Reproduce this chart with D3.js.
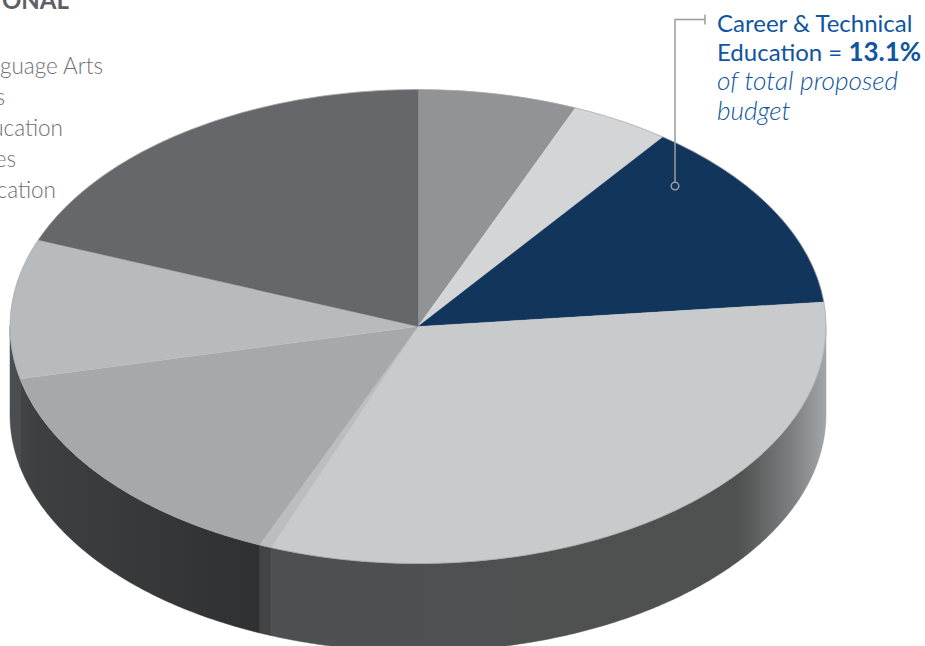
<!DOCTYPE html>
<html>
<head>
<meta charset="utf-8">
<script src="https://cdn.jsdelivr.net/npm/d3@7"></script>
<style>
  html, body { margin: 0; padding: 0; background: #fff; overflow: hidden; }
  svg { display: block; }
  text { font-family: Lato, "Open Sans", sans-serif; }
</style>
</head>
<body>
<div id="chart"></div>
<script>
// share of the budget per slice, clockwise from 12 o'clock
var sliceNames = ["Slice A", "Slice B", "Career & Technical Education", "Slice D", "Slice E", "Slice F", "Slice G", "Slice H"];
var sliceValues = [6.3, 3.95, 13.1, 32.5, 0.5, 15.1, 9.5, 19.05];

var topColors = ["#929396", "#d3d5d7", "#12355b", "#c9cacc", "#bcbdc0", "#a7a8ab", "#b9babd", "#66676a"];

// what is left of the legend inside the crop
var legendTitle = "ONAL";
var legendLines = ["guage Arts", "s", "ucation", "es", "cation"];

var width = 925, height = 646;
var cx = 418, cy = 326.5, rx = 408, ry = 237, depth = 88;

var svg = d3.select("#chart").append("svg")
  .attr("width", width)
  .attr("height", height);

var defs = svg.append("defs");

// gradient on the wall of the big slice, gets lighter towards the right edge
var bigWall = defs.append("linearGradient")
  .attr("id", "wallBig")
  .attr("gradientUnits", "userSpaceOnUse")
  .attr("x1", cx - rx).attr("x2", cx + rx).attr("y1", 0).attr("y2", 0);
[[0, "#4e4f50"], [0.89, "#4f5050"], [0.91, "#5b5c5c"], [0.96, "#7f8081"], [1, "#a4a5a6"]].forEach(function(s) {
  bigWall.append("stop").attr("offset", s[0]).attr("stop-color", s[1]);
});

// dark wall on the left
var leftWall = defs.append("linearGradient")
  .attr("id", "wallLeft")
  .attr("gradientUnits", "userSpaceOnUse")
  .attr("x1", cx - rx).attr("x2", 260).attr("y1", 0).attr("y2", 0);
[[0, "#454648"], [0.12, "#3e3f40"], [1, "#2f3031"]].forEach(function(s) {
  leftWall.append("stop").attr("offset", s[0]).attr("stop-color", s[1]);
});

var wallFills = [null, null, null, "url(#wallBig)", "#434446", "url(#wallLeft)", "#4c4d50", null];

var pie = d3.pie().sort(null).value(function(d) { return d; });
var slices = pie(sliceValues);

// point on the rim for a pie angle
function rimX(a) { return cx + rx * Math.sin(a); }
function rimY(a) { return cy - ry * Math.cos(a); }

// only the front half of the rim shows a wall
function wallPath(d) {
  var a0 = Math.max(d.startAngle, Math.PI / 2);
  var a1 = Math.min(d.endAngle, 3 * Math.PI / 2);
  if (a1 <= a0) return null;
  var angles = d3.range(a0, a1, 0.01).concat([a1]);
  var line = d3.line().x(function(a) { return rimX(a); });
  var upper = line.y(function(a) { return rimY(a); })(angles);
  var lower = line.y(function(a) { return rimY(a) + depth; })(angles.slice().reverse());
  return upper + "L" + lower.slice(1) + "Z";
}

// walls
svg.append("g").selectAll("path")
  .data(slices)
  .join("path")
  .attr("d", wallPath)
  .attr("fill", function(d, i) { return wallFills[i] || "none"; })
  .attr("stroke", function(d, i) { return wallFills[i] || "none"; })
  .attr("stroke-width", 0.5);

// top face, a flat pie squashed into an ellipse
var arc = d3.arc().innerRadius(0).outerRadius(rx);
var face = svg.append("g")
  .attr("transform", "translate(" + cx + "," + cy + ") scale(1," + (ry / rx) + ")");

face.selectAll("path")
  .data(slices)
  .join("path")
  .attr("d", arc)
  .attr("fill", function(d, i) { return topColors[i]; })
  .attr("stroke", function(d, i) { return topColors[i]; })
  .attr("stroke-width", 0.4)
  .append("title")
  .text(function(d, i) { return sliceNames[i] + ": " + d.value + "%"; });

// thin grey rim
svg.append("ellipse")
  .attr("cx", cx).attr("cy", cy)
  .attr("rx", rx).attr("ry", ry)
  .attr("fill", "none")
  .attr("stroke", "#a6a7a9")
  .attr("stroke-width", 0.7);

// callout line from the blue slice to the label
svg.append("path")
  .attr("d", "M705,14.5V24.5M705,19.5H675V182")
  .attr("fill", "none")
  .attr("stroke", "#9b9c9e")
  .attr("stroke-width", 1.5);
svg.append("circle")
  .attr("cx", 675).attr("cy", 186)
  .attr("r", 3.8)
  .attr("fill", "none")
  .attr("stroke", "#9b9c9e")
  .attr("stroke-width", 1.5);

// callout text
var blue = "#0f55a0";
var label = svg.append("g").attr("fill", blue).attr("font-size", 24);
label.append("text").attr("x", 717).attr("y", 32).text("Career & Technical");
var line2 = label.append("text").attr("x", 717).attr("y", 61);
line2.append("tspan").text("Education = ");
line2.append("tspan").attr("font-weight", 700).attr("font-size", 26).text(sliceValues[2].toFixed(1) + "%");
label.append("text").attr("x", 717).attr("y", 90).attr("font-size", 26.2).attr("font-weight", 300).attr("font-style", "italic").text("of total proposed");
label.append("text").attr("x", 717).attr("y", 120).attr("font-size", 26.2).attr("font-weight", 300).attr("font-style", "italic").text("budget");

// legend, cut off by the left edge
svg.append("text")
  .attr("x", 69).attr("y", 9)
  .attr("text-anchor", "end")
  .attr("font-size", 24)
  .attr("font-weight", 700)
  .attr("fill", "#5f6063")
  .text(legendTitle);

var legendEnds = [103, 5, 63, 16, 56];
svg.append("g").selectAll("text")
  .data(legendLines)
  .join("text")
  .attr("x", function(d, i) { return legendEnds[i]; })
  .attr("y", function(d, i) { return 74 + i * 31; })
  .attr("text-anchor", "end")
  .attr("font-size", 22.5)
  .attr("font-weight", 300)
  .attr("fill", "#6f7073")
  .text(function(d) { return d; });
</script>
</body>
</html>
